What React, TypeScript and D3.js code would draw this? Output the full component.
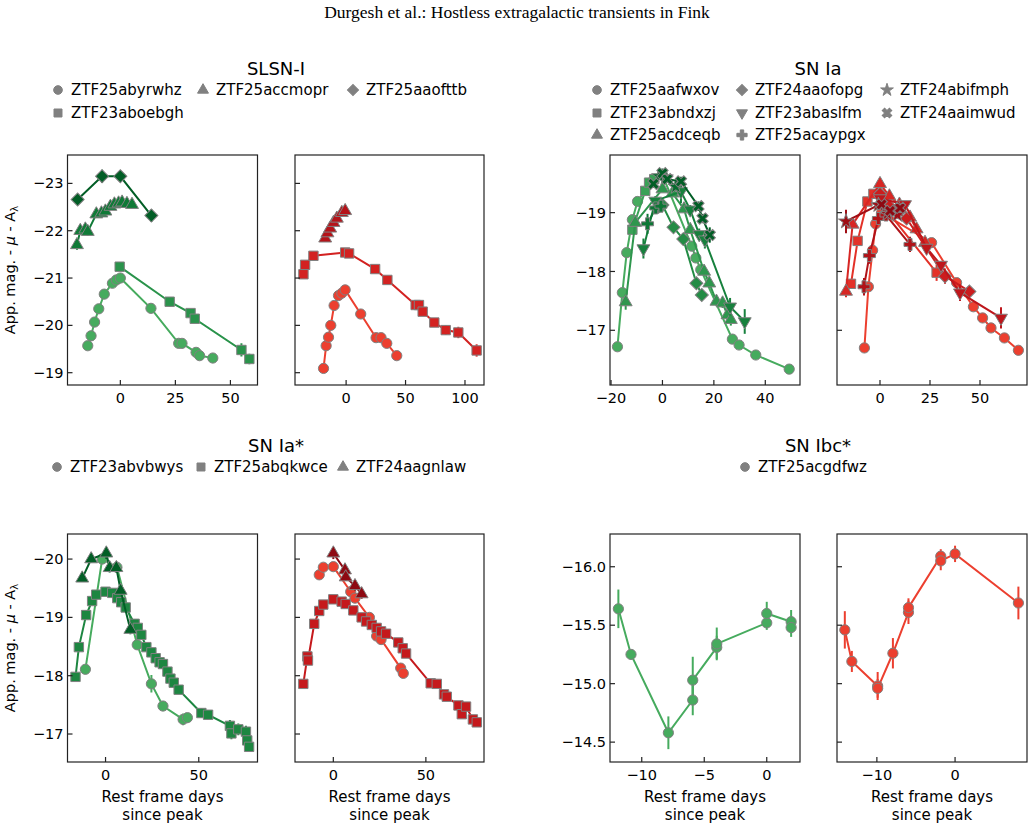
import * as d3 from 'd3';

// [rest-frame day, absolute magnitude, error]
type Pt = [number, number, number];
type Shape = 'o' | 's' | '^' | 'D' | 'v' | 'P' | '*' | 'X';

// ---------- SLSN-I ----------
const slsnNames = ['ZTF25abyrwhz', 'ZTF23aboebgh', 'ZTF25accmopr', 'ZTF25aaofttb'];
const slsnShapes: Shape[] = ['o', 's', '^', 'D'];
const slsnG: Pt[][] = [
  [[-14.8, -19.57, 0.05], [-13.3, -19.78, 0.05], [-11.7, -20.07, 0.05], [-9.8, -20.35, 0.05], [-7.3, -20.66, 0.05],
   [-3.6, -20.89, 0.05], [-1.8, -20.96, 0.05], [0, -21.0, 0.05], [13.9, -20.36, 0.1], [26.5, -19.62, 0.06],
   [28, -19.62, 0.06], [34.4, -19.43, 0.06], [36, -19.36, 0.06], [42, -19.31, 0.06]],
  [[-0.3, -21.24, 0.06], [22.4, -20.5, 0.1], [31.9, -20.26, 0.08], [33.8, -20.14, 0.08], [55, -19.48, 0.14], [58.6, -19.29, 0.11]],
  [[-19.7, -21.7, 0.1], [-18.2, -22.0, 0.08], [-15.9, -22.03, 0.08], [-14.8, -21.98, 0.08], [-10.9, -22.35, 0.08],
   [-8.6, -22.37, 0.08], [-6.8, -22.41, 0.06], [-4.5, -22.51, 0.06], [-2.7, -22.56, 0.06], [-0.8, -22.58, 0.06],
   [0.8, -22.6, 0.06], [3, -22.57, 0.06], [5.3, -22.55, 0.06]],
  [[-19.4, -22.66, 0.08], [-8.3, -23.15, 0.14], [0, -23.15, 0.1], [14.1, -22.32, 0.13]],
];
const slsnR: Pt[][] = [
  [[-19, -19.09, 0.07], [-16.8, -19.57, 0.05], [-14.8, -19.75, 0.05], [-12.9, -20.0, 0.05], [-10.1, -20.42, 0.05],
   [-6.4, -20.63, 0.05], [-3.6, -20.68, 0.05], [-0.8, -20.75, 0.05], [12.3, -20.24, 0.05], [25.2, -19.74, 0.05],
   [29.4, -19.74, 0.05], [34.2, -19.62, 0.05], [42.6, -19.36, 0.07]],
  [[-35.9, -21.08, 0.08], [-34.5, -21.28, 0.06], [-27.5, -21.47, 0.05], [-0.8, -21.54, 0.05], [2.5, -21.52, 0.05],
   [24.4, -21.19, 0.05], [34.7, -20.96, 0.05], [58.5, -20.43, 0.06], [61.3, -20.43, 0.06], [64.4, -20.29, 0.08],
   [74.2, -20.06, 0.08], [83.8, -19.9, 0.1], [94.4, -19.85, 0.12], [109.8, -19.47, 0.13]],
  [[-17.6, -21.84, 0.06], [-15.7, -21.95, 0.05], [-13.4, -22.05, 0.05], [-10.6, -22.17, 0.05], [-7.8, -22.26, 0.05],
   [-3.6, -22.38, 0.05], [-0.8, -22.42, 0.05]],
  [],
];

// ---------- SN Ia ----------
const iaNames = ['ZTF25aafwxov', 'ZTF23abndxzj', 'ZTF25acdceqb', 'ZTF24aaofopg', 'ZTF23abaslfm', 'ZTF25acaypgx', 'ZTF24abifmph', 'ZTF24aaimwud'];
const iaShapes: Shape[] = ['o', 's', '^', 'D', 'v', 'P', '*', 'X'];
const iaG: Pt[][] = [
  [[-17.5, -16.72, 0.05], [-15.6, -17.64, 0.05], [-13.9, -18.32, 0.05], [-11.7, -18.88, 0.05], [-9.7, -19.19, 0.05],
   [-3.9, -19.53, 0.05], [0, -19.64, 0.05], [11.4, -18.43, 0.06], [13, -18.23, 0.06], [14.9, -18.03, 0.06],
   [27.2, -16.85, 0.06], [29.8, -16.75, 0.06], [36.3, -16.58, 0.06], [49.3, -16.34, 0.06]],
  [[-11.7, -18.71, 0.06], [-6.7, -19.37, 0.05], [-5.2, -19.51, 0.05], [-3.2, -19.57, 0.05]],
  [[-14.3, -17.48, 0.13], [-10.6, -18.83, 0.06], [0, -19.4, 0.05], [3.9, -19.33, 0.05], [8.4, -19.06, 0.05],
   [10.8, -18.71, 0.06], [16.2, -18.0, 0.08], [18.2, -17.8, 0.08], [21, -17.49, 0.08], [23.4, -17.46, 0.08],
   [25.3, -17.26, 0.1], [26.6, -17.18, 0.1]],
  [[-1.5, -19.1, 0.05], [0, -19.13, 0.05], [4.3, -18.75, 0.06], [8.1, -18.55, 0.1], [13.2, -17.8, 0.08], [15.3, -17.6, 0.1]],
  [[-7.4, -18.39, 0.17], [-2.8, -19.2, 0.08], [7.2, -19.36, 0.2], [10.8, -19.05, 0.08], [14.3, -18.63, 0.1],
   [16.5, -18.54, 0.15], [26.3, -17.4, 0.15], [32, -17.15, 0.21]],
  [[-5.8, -18.81, 0.17], [-2.6, -19.08, 0.08], [-0.6, -19.11, 0.06]],
  [[-1.3, -19.62, 0.06], [1.3, -19.6, 0.06], [5.2, -19.44, 0.06]],
  [[-3.5, -19.49, 0.06], [0, -19.67, 0.08], [1.9, -19.57, 0.06], [7.2, -19.53, 0.08], [14, -19.11, 0.08],
   [15.6, -18.9, 0.08], [18.4, -18.62, 0.13]],
];
const iaR: Pt[][] = [
  [[-7.8, -16.7, 0.05], [-5.8, -17.74, 0.05], [-3.7, -18.36, 0.05], [-2.2, -18.81, 0.05], [0.8, -19.0, 0.05],
   [25.8, -18.49, 0.05], [38.3, -17.81, 0.05], [46.7, -17.4, 0.05], [51.3, -17.21, 0.05], [55.5, -17.04, 0.05],
   [62.2, -16.87, 0.05], [69.2, -16.66, 0.05]],
  [[-14.5, -17.79, 0.08], [-11.2, -18.52, 0.08], [-6.3, -19.19, 0.05], [-3.3, -19.32, 0.05], [28.3, -17.98, 0.14]],
  [[-17, -17.66, 0.1], [-13.7, -18.8, 0.06], [0, -19.49, 0.05], [4.7, -19.28, 0.05], [9.7, -19.14, 0.05],
   [15, -18.92, 0.05], [18.3, -18.72, 0.05], [22.5, -18.49, 0.05]],
  [[0, -19.32, 0.05], [4.7, -19.11, 0.05], [13.3, -18.9, 0.05], [32.5, -17.92, 0.13], [44.7, -17.66, 0.06]],
  [[0, -19.24, 0.05], [12.5, -19.14, 0.05], [23.3, -18.4, 0.06], [30.5, -18.11, 0.06], [40, -17.64, 0.14], [60.5, -17.21, 0.18]],
  [[-8, -17.74, 0.15], [-5.3, -18.27, 0.14], [-0.8, -18.9, 0.06], [3, -18.96, 0.06], [15, -18.46, 0.13]],
  [[-17, -18.85, 0.2], [-0.8, -19.13, 0.06], [3.7, -18.98, 0.06], [8.7, -18.96, 0.06]],
  [[0.8, -19.14, 0.06], [5, -19.03, 0.06], [10, -19.08, 0.06]],
];

// ---------- SN Ia* ----------
const iaStarNames = ['ZTF23abvbwys', 'ZTF25abqkwce', 'ZTF24aagnlaw'];
const iaStarShapes: Shape[] = ['o', 's', '^'];
const iaStarG: Pt[][] = [
  [[-10.8, -18.11, 0.05], [-1.8, -20.0, 0.05], [6.1, -19.86, 0.06], [17, -18.53, 0.06], [24.6, -17.86, 0.15],
   [30.8, -17.48, 0.08], [41.6, -17.25, 0.1], [43.9, -17.28, 0.08]],
  [[-16.1, -17.98, 0.06], [-14.3, -18.49, 0.08], [-10.4, -19.04, 0.06], [-7.2, -19.28, 0.05], [-5, -19.39, 0.05],
   [0, -19.44, 0.05], [3.6, -19.42, 0.05], [6.3, -19.33, 0.05], [8.4, -19.26, 0.05], [10.8, -19.17, 0.05],
   [15.6, -18.89, 0.05], [17.3, -18.82, 0.05], [19.2, -18.7, 0.05], [21.9, -18.49, 0.05], [24.6, -18.4, 0.05],
   [26.9, -18.3, 0.05], [29, -18.23, 0.05], [30.8, -18.2, 0.05], [33.2, -18.07, 0.05], [34.8, -17.95, 0.05],
   [36.6, -17.88, 0.05], [39.2, -17.76, 0.05], [51.4, -17.36, 0.08], [55, -17.33, 0.08], [66.7, -17.14, 0.1],
   [67.5, -17.01, 0.1], [71.2, -17.08, 0.1], [75.3, -17.04, 0.1], [76, -16.89, 0.1], [77, -16.78, 0.08]],
  [[-12.5, -19.67, 0.06], [-7.7, -20.0, 0.06], [0.4, -20.1, 0.1], [2.2, -19.85, 0.08], [5.8, -19.85, 0.08],
   [8.1, -19.46, 0.06], [13.3, -18.79, 0.08]],
];
const iaStarR: Pt[][] = [
  [[-7.6, -19.73, 0.05], [-5.4, -19.86, 0.05], [0, -19.87, 0.05], [9.4, -19.44, 0.05], [11.7, -19.33, 0.05],
   [19.5, -19.0, 0.05], [23.4, -18.68, 0.05], [25.8, -18.62, 0.05], [36.4, -18.13, 0.05], [37.8, -18.04, 0.05]],
  [[-16.2, -17.86, 0.05], [-14, -18.33, 0.05], [-13.7, -18.26, 0.05], [-10.3, -18.89, 0.05], [-7.6, -19.11, 0.05],
   [-5.4, -19.22, 0.05], [0, -19.31, 0.05], [4.5, -19.27, 0.05], [6.7, -19.23, 0.05], [10.8, -19.12, 0.05],
   [15.3, -19.0, 0.05], [17.7, -18.93, 0.05], [20.8, -18.87, 0.05], [23.4, -18.82, 0.05], [25.8, -18.76, 0.05],
   [28.5, -18.72, 0.05], [35.1, -18.57, 0.05], [37.5, -18.47, 0.05], [39.3, -18.38, 0.05], [52.6, -17.87, 0.05],
   [55.9, -17.86, 0.05], [59.8, -17.68, 0.05], [61.3, -17.64, 0.05], [67.6, -17.49, 0.05], [69.4, -17.34, 0.06],
   [71.7, -17.47, 0.05], [75.4, -17.25, 0.06], [77.5, -17.2, 0.06]],
  [[0, -20.1, 0.1], [6.3, -19.81, 0.1], [6.7, -19.69, 0.06], [11.7, -19.54, 0.08], [15.3, -19.4, 0.08]],
];

// ---------- SN Ibc* ----------
const ibcNames = ['ZTF25acgdfwz'];
const ibcShapes: Shape[] = ['o'];
const ibcG: Pt[][] = [
  [[-11.87, -15.64, 0.165], [-10.86, -15.25, 0.03], [-7.87, -14.58, 0.14], [-5.92, -14.86, 0.13], [-5.92, -15.03, 0.2],
   [-4.0, -15.31, 0.1], [-4.0, -15.34, 0.14], [0, -15.52, 0.06], [0, -15.6, 0.1], [1.95, -15.53, 0.1], [1.95, -15.48, 0.08]],
];
const ibcR: Pt[][] = [
  [[-14.1, -15.46, 0.16], [-13.2, -15.19, 0.09], [-9.9, -14.98, 0.12], [-9.9, -14.96, 0.08], [-7.95, -15.26, 0.13],
   [-5.96, -15.61, 0.1], [-5.96, -15.65, 0.08], [-1.83, -16.09, 0.06], [-1.83, -16.05, 0.08], [0, -16.11, 0.07],
   [8.1, -15.69, 0.14]],
];

// axis ticks for each panel
const ticksSlsnY = [-23, -22, -21, -20, -19];
const ticksSlsnGX = [0, 25, 50];
const ticksSlsnRX = [0, 50, 100];
const ticksIaY = [-19, -18, -17];
const ticksIaGX = [-20, 0, 20, 40];
const ticksIaRX = [0, 25, 50];
const ticksIaStarY = [-20, -19, -18, -17];
const ticksIaStarX = [0, 50];
const ticksIbcY = [-16.0, -15.5, -15.0, -14.5];
const ticksIbcGX = [-10, -5, 0];
const ticksIbcRX = [-10, 0];

const FONT = '"DejaVu Sans", sans-serif';
const EDGE = '#808080';

const symbolFor = (s: Shape) => {
  switch (s) {
    case 'o': return { type: d3.symbolCircle, size: 82, rot: 0 };
    case 's': return { type: d3.symbolSquare, size: 88, rot: 0 };
    case '^': return { type: d3.symbolTriangle, size: 72, rot: 0 };
    case 'v': return { type: d3.symbolTriangle, size: 72, rot: 180 };
    case 'D': return { type: d3.symbolSquare, size: 85, rot: 45 };
    case 'P': return { type: d3.symbolCross, size: 80, rot: 0 };
    case '*': return { type: d3.symbolStar, size: 70, rot: 0 };
    case 'X': return { type: d3.symbolCross, size: 80, rot: 45 };
  }
};

const Marker = ({ shape, x, y, fill, stroke, scale = 1 }: { shape: Shape; x: number; y: number; fill: string; stroke: string; scale?: number }) => {
  const s = symbolFor(shape);
  const d = d3.symbol().type(s.type).size(s.size * scale * scale)() || '';
  return <path d={d} transform={`translate(${x},${y}) rotate(${s.rot})`} fill={fill} stroke={stroke} strokeWidth={1} />;
};

interface PanelProps {
  id: string;
  left: number; right: number; top: number; bottom: number;
  xDomain: [number, number];
  yDomain: [number, number];
  xTicks: number[];
  yTicks: number[];
  yFormat: string;
  showYLabels: boolean;
  series: Pt[][];
  shapes: Shape[];
  interp: (t: number) => string;
}

const seriesColor = (interp: (t: number) => string, i: number, n: number) =>
  interp(n > 1 ? 0.62 + (0.3 * i) / (n - 1) : 0.62);

function Panel(p: PanelProps) {
  const x = d3.scaleLinear().domain(p.xDomain).range([p.left, p.right]);
  const y = d3.scaleLinear().domain(p.yDomain).range([p.top, p.bottom]);
  const line = d3.line<Pt>().x(d => x(d[0])).y(d => y(d[1]));
  const yFmt = d3.format(p.yFormat);
  const xFmt = d3.format('d');
  const n = p.series.length;
  return (
    <g>
      <defs>
        <clipPath id={`clip-${p.id}`}>
          <rect x={p.left} y={p.top} width={p.right - p.left} height={p.bottom - p.top} />
        </clipPath>
      </defs>
      <g clipPath={`url(#clip-${p.id})`}>
        {p.series.map((pts, i) => {
          const c = seriesColor(p.interp, i, n);
          return (
            <g key={i}>
              <path d={line(pts) || ''} fill="none" stroke={c} strokeWidth={2} />
              {pts.map((d, j) => (
                <line key={j} x1={x(d[0])} x2={x(d[0])} y1={y(d[1] - d[2])} y2={y(d[1] + d[2])} stroke={c} strokeWidth={2} />
              ))}
              {pts.map((d, j) => (
                <Marker key={j} shape={p.shapes[i]} x={x(d[0])} y={y(d[1])} fill={c} stroke={EDGE} />
              ))}
            </g>
          );
        })}
      </g>
      <rect x={p.left} y={p.top} width={p.right - p.left} height={p.bottom - p.top} fill="none" stroke="#222" strokeWidth={1.2} />
      {p.yTicks.map(t => (
        <g key={t}>
          <line x1={p.left} x2={p.left + 5} y1={y(t)} y2={y(t)} stroke="#222" strokeWidth={1.2} />
          {p.showYLabels && (
            <text x={p.left - 4} y={y(t)} dy="0.35em" textAnchor="end" fontSize={14.5} fontFamily={FONT} fill="#000">
              {yFmt(t)}
            </text>
          )}
        </g>
      ))}
      {p.xTicks.map(t => (
        <g key={t}>
          <line x1={x(t)} x2={x(t)} y1={p.bottom} y2={p.bottom - 5} stroke="#222" strokeWidth={1.2} />
          <text x={x(t)} y={p.bottom + 18} textAnchor="middle" fontSize={14.5} fontFamily={FONT} fill="#000">
            {xFmt(t)}
          </text>
        </g>
      ))}
    </g>
  );
}

function Legend({ title, cx, titleY, names, shapes, colX, rowY }: { title: string; cx: number; titleY: number; names: string[]; shapes: Shape[]; colX: number[]; rowY: number[] }) {
  // column-major fill; the first (n % ncol) columns take one extra entry
  const ncol = colX.length;
  const base = Math.floor(names.length / ncol);
  const extra = names.length % ncol;
  const slots: [number, number][] = [];
  for (let c = 0; c < ncol; c++) {
    const len = base + (c < extra ? 1 : 0);
    for (let r = 0; r < len; r++) slots.push([c, r]);
  }
  return (
    <g>
      <text x={cx} y={titleY} textAnchor="middle" fontSize={18} fontFamily={FONT} fill="#000">{title}</text>
      {names.map((name, i) => {
        const [col, row] = slots[i];
        const mx = colX[col];
        const my = rowY[row];
        return (
          <g key={name}>
            <Marker shape={shapes[i]} x={mx} y={my} fill={EDGE} stroke={EDGE} scale={0.85} />
            <text x={mx + 13} y={my} dy="0.36em" fontSize={15} fontFamily={FONT} fill="#000">{name}</text>
          </g>
        );
      })}
    </g>
  );
}

const YLabel = ({ x, y }: { x: number; y: number }) => (
  <text transform={`translate(${x},${y}) rotate(-90)`} textAnchor="middle" fontSize={14.5} fontFamily={FONT} fill="#000">
    App. mag. - <tspan fontStyle="italic">μ</tspan> - A<tspan fontSize={10} dy={3}>λ</tspan>
  </text>
);

const XLabel = ({ cx }: { cx: number }) => (
  <g fontSize={15} fontFamily={FONT} textAnchor="middle" fill="#000">
    <text x={cx} y={802}>Rest frame days</text>
    <text x={cx} y={820}>since peak</text>
  </g>
);

export default function App() {
  const TOP1 = 155, BOT1 = 385, TOP2 = 534, BOT2 = 762;
  const cols = [[67.5, 257.5], [295, 484], [610, 800], [837, 1027]];
  const G = d3.interpolateGreens;
  const R = d3.interpolateReds;

  return (
    <svg width={1034} height={829} style={{ position: 'absolute', left: 0, top: 0, background: '#fff' }}>
      <rect width={1034} height={829} fill="#fff" />
      <text x={517} y={18} textAnchor="middle" fontSize={17.5} fontFamily='"Liberation Serif", serif' fill="#000">
        Durgesh et al.: Hostless extragalactic transients in Fink
      </text>

      <Legend title="SLSN-I" cx={276} titleY={75} names={slsnNames} shapes={slsnShapes} colX={[58, 203, 353]} rowY={[90, 113]} />
      <Legend title="SN Ia" cx={818} titleY={75} names={iaNames} shapes={iaShapes} colX={[597, 742, 887]} rowY={[90, 113, 135]} />
      <Legend title="SN Ia*" cx={276} titleY={452} names={iaStarNames} shapes={iaStarShapes} colX={[57, 201, 343]} rowY={[467]} />
      <Legend title="SN Ibc*" cx={818} titleY={452} names={ibcNames} shapes={ibcShapes} colX={[745]} rowY={[467]} />

      <Panel id="a" left={cols[0][0]} right={cols[0][1]} top={TOP1} bottom={BOT1} xDomain={[-24, 62.3]} yDomain={[-23.6, -18.74]}
        xTicks={ticksSlsnGX} yTicks={ticksSlsnY} yFormat="d" showYLabels series={slsnG} shapes={slsnShapes} interp={G} />
      <Panel id="b" left={cols[1][0]} right={cols[1][1]} top={TOP1} bottom={BOT1} xDomain={[-43, 116]} yDomain={[-23.6, -18.74]}
        xTicks={ticksSlsnRX} yTicks={ticksSlsnY} yFormat="d" showYLabels={false} series={slsnR} shapes={slsnShapes} interp={R} />
      <Panel id="c" left={cols[2][0]} right={cols[2][1]} top={TOP1} bottom={BOT1} xDomain={[-20.4, 53.5]} yDomain={[-19.98, -16.07]}
        xTicks={ticksIaGX} yTicks={ticksIaY} yFormat="d" showYLabels series={iaG} shapes={iaShapes} interp={G} />
      <Panel id="d" left={cols[3][0]} right={cols[3][1]} top={TOP1} bottom={BOT1} xDomain={[-21.5, 73.5]} yDomain={[-19.98, -16.07]}
        xTicks={ticksIaRX} yTicks={ticksIaY} yFormat="d" showYLabels={false} series={iaR} shapes={iaShapes} interp={R} />

      <Panel id="e" left={cols[0][0]} right={cols[0][1]} top={TOP2} bottom={BOT2} xDomain={[-20.4, 81.5]} yDomain={[-20.43, -16.52]}
        xTicks={ticksIaStarX} yTicks={ticksIaStarY} yFormat="d" showYLabels series={iaStarG} shapes={iaStarShapes} interp={G} />
      <Panel id="f" left={cols[1][0]} right={cols[1][1]} top={TOP2} bottom={BOT2} xDomain={[-20.7, 81.4]} yDomain={[-20.43, -16.52]}
        xTicks={ticksIaStarX} yTicks={ticksIaStarY} yFormat="d" showYLabels={false} series={iaStarR} shapes={iaStarShapes} interp={R} />
      <Panel id="g" left={cols[2][0]} right={cols[2][1]} top={TOP2} bottom={BOT2} xDomain={[-12.54, 2.66]} yDomain={[-16.28, -14.33]}
        xTicks={ticksIbcGX} yTicks={ticksIbcY} yFormat=".1f" showYLabels series={ibcG} shapes={ibcShapes} interp={G} />
      <Panel id="h" left={cols[3][0]} right={cols[3][1]} top={TOP2} bottom={BOT2} xDomain={[-15.1, 9.2]} yDomain={[-16.28, -14.33]}
        xTicks={ticksIbcRX} yTicks={ticksIbcY} yFormat=".1f" showYLabels={false} series={ibcR} shapes={ibcShapes} interp={R} />

      <YLabel x={15} y={(TOP1 + BOT1) / 2} />
      <YLabel x={15} y={(TOP2 + BOT2) / 2} />
      {cols.map((c, i) => <XLabel key={i} cx={(c[0] + c[1]) / 2} />)}
    </svg>
  );
}
